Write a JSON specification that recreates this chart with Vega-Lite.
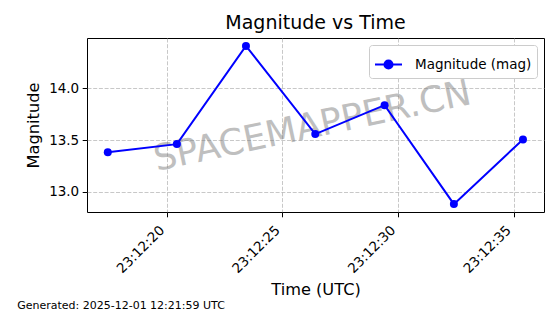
{
  "$schema": "https://vega.github.io/schema/vega-lite/v6.json",
  "padding": {"left": 17, "top": 13, "right": 5, "bottom": 3},
  "background": "white",
  "config": {
    "font": "DejaVu Sans",
    "view": {"stroke": "black", "strokeWidth": 1},
    "axis": {
      "labelFont": "DejaVu Sans", "titleFont": "DejaVu Sans",
      "labelFontSize": 13.5, "titleFontSize": 16.2, "titleFontWeight": "normal",
      "labelColor": "black", "titleColor": "black",
      "tickColor": "black", "tickSize": 4.8, "tickWidth": 1,
      "labelPadding": 3.5, "domain": false, "grid": true,
      "gridColor": "#b0b0b0", "gridOpacity": 0.7, "gridDash": [4, 1.7], "gridWidth": 1
    },
    "concat": {"spacing": 0}
  },
  "title": {
    "text": "Generated: 2025-12-01 12:21:59 UTC",
    "orient": "bottom", "anchor": "start", "frame": "bounds",
    "fontSize": 11, "fontWeight": "normal", "color": "black", "font": "DejaVu Sans",
    "offset": 2, "dx": -8
  },
  "vconcat": [
    {
      "width": 457, "height": 174,
      "title": {"text": "Magnitude vs Time", "fontSize": 19, "fontWeight": "normal", "color": "black", "font": "DejaVu Sans", "offset": 5, "anchor": "middle", "frame": "group"},
      "data": {"values": [
        {"time": "2025-11-30T23:12:17.440Z", "mag": 13.383, "series": "Magnitude (mag)"},
        {"time": "2025-11-30T23:12:20.430Z", "mag": 13.461, "series": "Magnitude (mag)"},
        {"time": "2025-11-30T23:12:23.420Z", "mag": 14.409, "series": "Magnitude (mag)"},
        {"time": "2025-11-30T23:12:26.420Z", "mag": 13.558, "series": "Magnitude (mag)"},
        {"time": "2025-11-30T23:12:29.420Z", "mag": 13.837, "series": "Magnitude (mag)"},
        {"time": "2025-11-30T23:12:32.420Z", "mag": 12.882, "series": "Magnitude (mag)"},
        {"time": "2025-11-30T23:12:35.410Z", "mag": 13.506, "series": "Magnitude (mag)"}
      ]},
      "layer": [
        {
          "data": {"values": [{"label": "SPACEMAPPER.CN"}]},
          "mark": {"type": "text", "fontSize": 36, "angle": -12, "align": "center", "baseline": "middle", "color": "#808080", "opacity": 0.5, "font": "DejaVu Sans"},
          "encoding": {
            "x": {"datum": {"year": 2025, "month": 11, "date": 30, "hours": 23, "minutes": 12, "seconds": 26, "milliseconds": 300, "utc": true}, "type": "temporal",
              "scale": {"type": "utc", "domain": [
                {"year": 2025, "month": 11, "date": 30, "hours": 23, "minutes": 12, "seconds": 16, "milliseconds": 540, "utc": true},
                {"year": 2025, "month": 11, "date": 30, "hours": 23, "minutes": 12, "seconds": 36, "milliseconds": 320, "utc": true}
              ]},
              "axis": {"title": "Time (UTC)", "grid": true, "labelExpr": "utcFormat(datum.value, '%H:%M:%S')", "labelAngle": -45, "labelAlign": "right", "labelBaseline": "top", "labelOffset": -10, "labelPadding": 6, "titlePadding": 6,
                "values": [
                  {"year": 2025, "month": 11, "date": 30, "hours": 23, "minutes": 12, "seconds": 20, "utc": true},
                  {"year": 2025, "month": 11, "date": 30, "hours": 23, "minutes": 12, "seconds": 25, "utc": true},
                  {"year": 2025, "month": 11, "date": 30, "hours": 23, "minutes": 12, "seconds": 30, "utc": true},
                  {"year": 2025, "month": 11, "date": 30, "hours": 23, "minutes": 12, "seconds": 35, "utc": true}
                ]}},
            "y": {"datum": 13.63, "type": "quantitative",
              "scale": {"domain": [12.806, 14.485], "nice": false, "zero": false},
              "axis": {"title": "Magnitude", "grid": true, "values": [13.0, 13.5, 14.0], "format": ".1f", "titlePadding": 7}},
            "text": {"field": "label"}
          }
        },
        {
          "mark": {"type": "line", "strokeWidth": 2},
          "encoding": {
            "x": {"field": "time", "type": "temporal"},
            "y": {"field": "mag", "type": "quantitative"},
            "color": {"field": "series", "type": "nominal", "scale": {"range": ["#0000ff"]},
              "legend": {
                "title": null, "orient": "top-right", "offset": 7, "padding": 5,
                "fillColor": "white", "strokeColor": "#cccccc", "cornerRadius": 3,
                "labelFont": "DejaVu Sans", "labelFontSize": 13.5, "labelColor": "black", "labelOffset": 12,
                "symbolType": "M-1,0L1,0M-0.3,0A0.3,0.3,0,1,0,0.3,0A0.3,0.3,0,1,0,-0.3,0Z",
                "symbolSize": 729,
                "encode": {"symbols": {"update": {"fill": {"value": "#0000ff"}, "stroke": {"value": "#0000ff"}, "strokeWidth": {"value": 2}, "opacity": {"value": 1}}}}
              }}
          }
        },
        {
          "mark": {"type": "point", "filled": true, "opacity": 1, "size": 64, "shape": "circle"},
          "encoding": {
            "x": {"field": "time", "type": "temporal"},
            "y": {"field": "mag", "type": "quantitative"},
            "color": {"field": "series", "type": "nominal"}
          }
        }
      ]
    }
  ]
}
